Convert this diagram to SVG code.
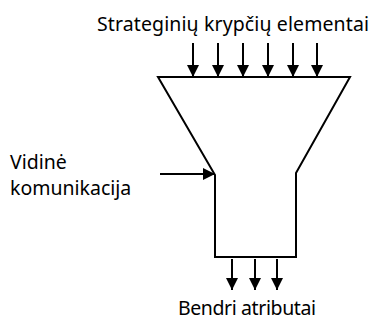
<svg xmlns="http://www.w3.org/2000/svg" width="374" height="322" viewBox="0 0 374 322">
  <style>
    .line { fill: none; stroke: #000; stroke-width: 2; }
    .label { font-family: "Noto Sans", "Liberation Sans", sans-serif; font-size: 19.5px; fill: #000; }
  </style>
  <defs>
    <marker id="arrow" markerUnits="userSpaceOnUse" markerWidth="14" markerHeight="14" refX="12" refY="6" orient="auto">
      <path d="M0,0 L12,6 L0,12 Z" fill="#000"/>
    </marker>
  </defs>
  <rect width="374" height="322" fill="#fff"/>

  <g id="funnel">
    <path class="line" d="M158,77 L350,77 L296,173 L296,257 L215,257 L215,175 Z"/>
  </g>

  <g id="connectors">
    <line class="line" x1="193" y1="43" x2="193" y2="77" marker-end="url(#arrow)"/>
    <line class="line" x1="218" y1="43" x2="218" y2="77" marker-end="url(#arrow)"/>
    <line class="line" x1="243" y1="43" x2="243" y2="77" marker-end="url(#arrow)"/>
    <line class="line" x1="268" y1="43" x2="268" y2="77" marker-end="url(#arrow)"/>
    <line class="line" x1="293" y1="43" x2="293" y2="77" marker-end="url(#arrow)"/>
    <line class="line" x1="317" y1="43" x2="317" y2="77" marker-end="url(#arrow)"/>
    <line class="line" x1="160" y1="174" x2="215" y2="174" marker-end="url(#arrow)"/>
    <line class="line" x1="232" y1="259" x2="232" y2="290" marker-end="url(#arrow)"/>
    <line class="line" x1="255" y1="259" x2="255" y2="290" marker-end="url(#arrow)"/>
    <line class="line" x1="277" y1="259" x2="277" y2="290" marker-end="url(#arrow)"/>
  </g>

  <g id="label-top">
    <text class="label" x="97" y="31" textLength="272">Strateginių krypčių elementai</text>
  </g>
  <g id="label-left">
    <text class="label" x="10" y="169">Vidinė</text>
    <text class="label" x="10" y="195">komunikacija</text>
  </g>
  <g id="label-bottom">
    <text class="label" x="178" y="315" textLength="138">Bendri atributai</text>
  </g>
</svg>
